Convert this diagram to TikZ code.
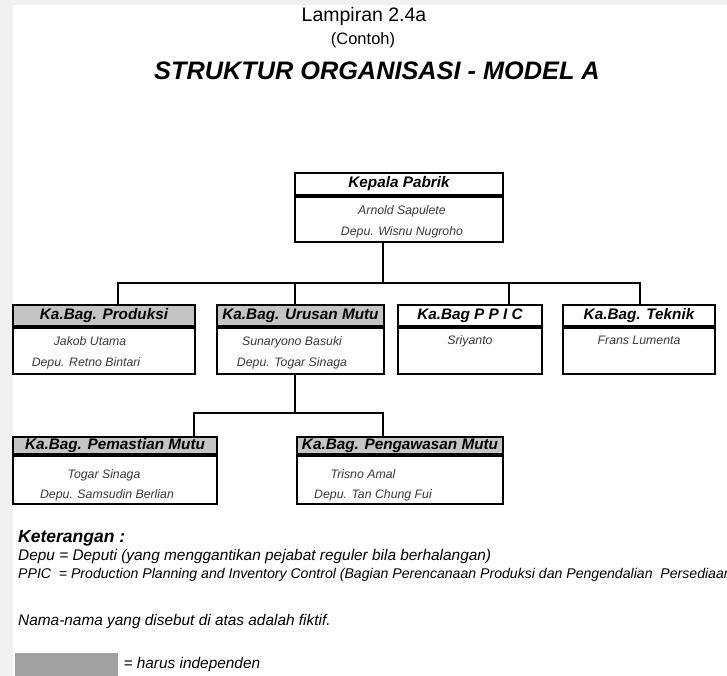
\documentclass[tikz,border=0pt]{standalone}
\usepackage{fontspec}
\setmainfont{Liberation Sans}
\usetikzlibrary{positioning}
\definecolor{abuhdr}{HTML}{C4C4C4}
\definecolor{abulgd}{HTML}{A2A2A2}
\definecolor{latar}{HTML}{F1F1F1}
\definecolor{teksnama}{HTML}{3A3A3A}
\tikzset{
  kepala/.style    ={draw,line width=1.8pt,inner sep=0pt,font=\fontsize{15.3}{17}\selectfont\bfseries\itshape,
                     text height=11pt,text depth=3pt},
  kepalaabu/.style ={kepala,fill=abuhdr},
  isi/.style       ={draw,line width=1.8pt,inner sep=0pt},
  nama/.style      ={font=\fontsize{12.3}{14}\selectfont\itshape,text=teksnama,inner sep=0pt,
                     text height=9pt,text depth=2.6pt},
  garis/.style     ={line width=1.8pt},
  catatan/.style   ={font=\fontsize{15.4}{17}\selectfont\itshape,anchor=west,inner sep=0pt,
                     text height=11pt,text depth=3.5pt}
}

\begin{document}
\begin{tikzpicture}[x=1pt,y=1pt]
    \useasboundingbox (0,0) rectangle (727,-676);
    \clip (0,0) rectangle (727,-676);
    \fill[latar] (0,0) rectangle (727,-676);
    \fill[white] (13,-5) rectangle (727,-676);

    % judul
    \node[font=\fontsize{19.5}{21}\selectfont] (lampiran) at (364,-16) {Lampiran 2.4a};
    \node[font=\fontsize{16.5}{18}\selectfont] (contoh) at (363,-40) {(Contoh)};
    \node[font=\fontsize{25.3}{28}\selectfont\bfseries\itshape] (judul) at (377,-71) {STRUKTUR ORGANISASI - MODEL A};

    % kepala pabrik
    \node[kepala, minimum width=208pt, minimum height=22pt] (pabrik) at (399,-184) {Kepala Pabrik};
    \node[isi, minimum width=208pt, minimum height=45pt, below=0pt of pabrik] (pabrik-isi) {};
    \node[nama] at (402,-211) {Arnold Sapulete};
    \node[nama] at (402,-232) {Depu. Wisnu Nugroho};

    % baris kedua
    \node[kepalaabu, minimum width=182pt, minimum height=21pt] (produksi) at (104,-315.5) {Ka.Bag. Produksi};
    \node[isi, minimum width=182pt, minimum height=46pt, below=0pt of produksi] (produksi-isi) {};
    \node[kepalaabu, minimum width=167pt, minimum height=21pt] (urusan) at (300.5,-315.5) {Ka.Bag. Urusan Mutu};
    \node[isi, minimum width=167pt, minimum height=46pt, below=0pt of urusan] (urusan-isi) {};
    \node[kepala, minimum width=144pt, minimum height=21pt] (ppic) at (470,-315.5) {Ka.Bag P P I C};
    \node[isi, minimum width=144pt, minimum height=46pt, below=0pt of ppic] (ppic-isi) {};
    \node[kepala, minimum width=152pt, minimum height=21pt] (teknik) at (639,-315.5) {Ka.Bag. Teknik};
    \node[isi, minimum width=152pt, minimum height=46pt, below=0pt of teknik] (teknik-isi) {};
    \node[nama] at (90,-342)  {Jakob Utama};
    \node[nama] at (86,-363)  {Depu. Retno Bintari};
    \node[nama] at (292,-342) {Sunaryono Basuki};
    \node[nama] at (292,-363) {Depu. Togar Sinaga};
    \node[nama] at (470,-341) {Sriyanto};
    \node[nama] at (639,-341) {Frans Lumenta};

    % baris ketiga
    \node[kepalaabu, minimum width=204pt, minimum height=17pt] (pemastian) at (115,-445.5) {Ka.Bag. Pemastian Mutu};
    \node[isi, minimum width=204pt, minimum height=48pt, below=0pt of pemastian] (pemastian-isi) {};
    \node[kepalaabu, minimum width=206pt, minimum height=17pt] (pengawasan) at (400,-445.5) {Ka.Bag. Pengawasan Mutu};
    \node[isi, minimum width=206pt, minimum height=48pt, below=0pt of pengawasan] (pengawasan-isi) {};
    \node[nama] at (104,-475) {Togar Sinaga};
    \node[nama] at (107,-495) {Depu. Samsudin Berlian};
    \node[nama] at (363,-475) {Trisno Amal};
    \node[nama] at (373,-495) {Depu. Tan Chung Fui};

    % garis
    \coordinate (j1) at (383,-283);
    \coordinate (t1) at (118,-283);
    \coordinate (t2) at (295,-283);
    \coordinate (t3) at (509,-283);
    \coordinate (t4) at (640,-283);
    \draw[garis] (pabrik-isi.south -| j1) -- (j1);
    \draw[garis] (produksi.north -| t1) -- (t1) -- (t4) -- (teknik.north -| t4);
    \draw[garis] (t2) -- (urusan.north -| t2);
    \draw[garis] (t3) -- (ppic.north -| t3);
    \coordinate (j2) at (295,-413);
    \coordinate (t5) at (194,-413);
    \coordinate (t6) at (383,-413);
    \draw[garis] (urusan-isi.south -| j2) -- (j2);
    \draw[garis] (pemastian.north -| t5) -- (t5) -- (t6) -- (pengawasan.north -| t6);

    % keterangan
    \node[catatan, font=\fontsize{17.5}{19}\selectfont\bfseries\itshape] (ket) at (18,-539) {Keterangan :};
    \node[catatan] (ket1) at (18,-557) {Depu = Deputi (yang menggantikan pejabat reguler bila berhalangan)};
    \node[catatan, font=\fontsize{14.1}{16}\selectfont\itshape] (ket2) at (18,-575) {PPIC\ \ = Production Planning and Inventory Control (Bagian Perencanaan Produksi dan Pengendalian\ \ Persediaan)};
    \node[catatan] (fiktif) at (18,-622) {Nama-nama yang disebut di atas adalah fiktif.};
    \node[fill=abulgd, minimum width=103pt, minimum height=24pt, inner sep=0pt, anchor=north west] (contohabu) at (15,-653) {};
    \node[catatan, right=5pt of contohabu] (indep) {= harus independen};
\end{tikzpicture}
\end{document}
